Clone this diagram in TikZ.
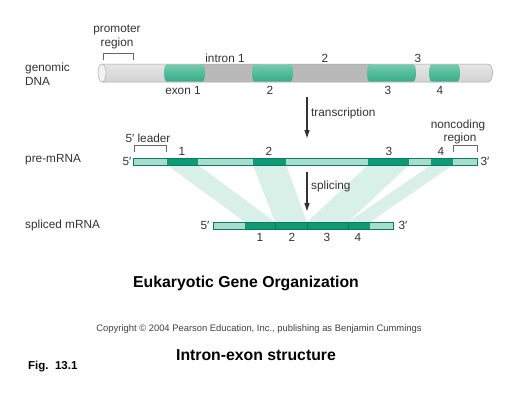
\documentclass[tikz,border=0pt]{standalone}
\usepackage{fontspec}
\setmainfont{Liberation Sans}
\usetikzlibrary{arrows.meta}
\definecolor{exon}{HTML}{0E9A76}
\definecolor{exontop}{HTML}{72CCAD}
\definecolor{exonmid}{HTML}{22A47F}
\definecolor{exonbot}{HTML}{35AC88}
\definecolor{mrna}{HTML}{A9DDCB}
\definecolor{fan}{HTML}{D8F0E7}
\definecolor{txt}{HTML}{333333}
\begin{document}
\begin{tikzpicture}[x=1pt,y=-1pt,
  lbl/.style={font=\fontsize{11.8}{13}\selectfont, text=txt, inner sep=0pt},
  brk/.style={draw=gray!80!black, line width=0.6pt},
  flow/.style={draw=black!80, line width=1.2pt, -{Triangle[length=8pt,width=5pt]}},
  bar/.style={draw=exon!80!black, line width=0.5pt},
]
\useasboundingbox (0,0) rectangle (518,400);
\fill[white] (0,0) rectangle (518,400);

% ---------- genomic DNA cylinder ----------
\shade[top color=gray!20, middle color=white, bottom color=gray!35]
  (102,64) -- (488,64) .. controls (494,64) and (494,82) .. (488,82) -- (102,82) -- cycle;
% introns 1 and 2 darker
\shade[top color=gray!55, middle color=gray!8, bottom color=gray!55]
  (200,64.3) rectangle (257,81.7);
\shade[top color=gray!55, middle color=gray!8, bottom color=gray!55]
  (288,64.3) rectangle (372,81.7);
% exons
\foreach \a/\b in {167/202, 255/290, 370/413, 432/457}{
  \shade[top color=exontop, middle color=exonmid, bottom color=exonbot]
    (\a,64.3) -- (\b,64.3) .. controls (\b+4,64.3) and (\b+4,81.7) .. (\b,81.7)
    -- (\a,81.7) .. controls (\a-4,81.7) and (\a-4,64.3) .. (\a,64.3) -- cycle;
}
\draw[gray!70, line width=0.5pt] (102,64) -- (488,64) .. controls (494,64) and (494,82) .. (488,82) -- (102,82);
\draw[gray!70, fill=gray!10, line width=0.5pt] (102,73) ellipse [x radius=4, y radius=9];

\node[lbl, anchor=west] (gd1) at (25,68) {genomic};
\node[lbl, anchor=west] (gd2) at (25,81) {DNA};
\node[lbl] (prom1) at (117,30) {promoter};
\node[lbl] (prom2) at (117,43) {region};
\draw[brk] (103,60) -- (103,53) -- (133,53) -- (133,60);
\node[lbl] (in1) at (225,58) {intron 1};
\node[lbl] (in2) at (325,58) {2};
\node[lbl] (in3) at (418,58) {3};
\node[lbl] (ex1) at (183,90) {exon 1};
\node[lbl] (ex2) at (270,90) {2};
\node[lbl] (ex3) at (388,90) {3};
\node[lbl] (ex4) at (440,90) {4};

% ---------- transcription arrow ----------
\coordinate (t1) at (307,97);
\coordinate (t2) at (307,138);
\draw[flow] (t1) -- (t2);
\node[lbl, anchor=west] (tr) at (311,113) {transcription};

% ---------- fans ----------
\fill[fan] (167,165) -- (198,165) -- (275,222) -- (245,222) -- cycle;
\fill[fan] (253,165) -- (286,165) -- (307,222) -- (275,222) -- cycle;
\fill[fan] (368,165) -- (409,165) -- (348,222) -- (307,222) -- cycle;
\fill[fan] (431,165) -- (453,165) -- (370,222) -- (348,222) -- cycle;

% ---------- pre-mRNA ----------
\draw[bar, fill=mrna] (133,158) rectangle (477,165);
\foreach \a/\b in {167/198, 253/286, 368/409, 431/453}{
  \fill[exon] (\a,158) rectangle (\b,165);
}
\draw[bar] (133,158) rectangle (477,165);
\node[lbl, anchor=west] (pre) at (25,160) {pre-mRNA};
\node[lbl] (p5) at (127,161) {5′};
\node[lbl] (p3) at (485,161) {3′};
\node[lbl] (pe1) at (182,151) {1};
\node[lbl] (pe2) at (269,151) {2};
\node[lbl] (pe3) at (389,151) {3};
\node[lbl] (pe4) at (441,151) {4};
\node[lbl] (lead) at (148,138) {5′ leader};
\draw[brk] (134,152) -- (134,145) -- (166,145) -- (166,152);
\node[lbl] (nc1) at (458,125) {noncoding};
\node[lbl] (nc2) at (460,138) {region};
\draw[brk] (453,152) -- (453,145) -- (477,145) -- (477,152);

% ---------- splicing arrow ----------
\coordinate (s1) at (307,172);
\coordinate (s2) at (307,211);
\draw[flow] (s1) -- (s2);
\node[lbl, anchor=west] (sp) at (311,186) {splicing};

% ---------- spliced mRNA ----------
\draw[bar, fill=mrna] (213,222) rectangle (393,229);
\fill[exon] (245,222) rectangle (370,229);
\foreach \x in {275,307,348}{ \draw[exon!75!black, line width=0.3pt] (\x,222) -- (\x,229); }
\draw[bar] (213,222) rectangle (393,229);
\node[lbl, anchor=west] (spl) at (25,225) {spliced mRNA};
\node[lbl] (s5) at (205,225) {5′};
\node[lbl] (s3) at (403,225) {3′};
\node[lbl] (se1) at (260,237) {1};
\node[lbl] (se2) at (292,237) {2};
\node[lbl] (se3) at (327,237) {3};
\node[lbl] (se4) at (358,237) {4};

% ---------- captions ----------
\node[font=\bfseries\fontsize{15.8}{18}\selectfont, inner sep=0pt] (title) at (246,283) {Eukaryotic Gene Organization};
\node[font=\fontsize{9.4}{11}\selectfont, text=black!75, inner sep=0pt] (copy) at (259,329) {Copyright © 2004 Pearson Education, Inc., publishing as Benjamin Cummings};
\node[font=\bfseries\fontsize{15.8}{18}\selectfont, inner sep=0pt] (sub) at (256,355) {Intron-exon structure};
\node[font=\bfseries\fontsize{11.5}{13}\selectfont, inner sep=0pt, anchor=west] (fig) at (28,367) {Fig.\ \ 13.1};
\end{tikzpicture}
\end{document}
